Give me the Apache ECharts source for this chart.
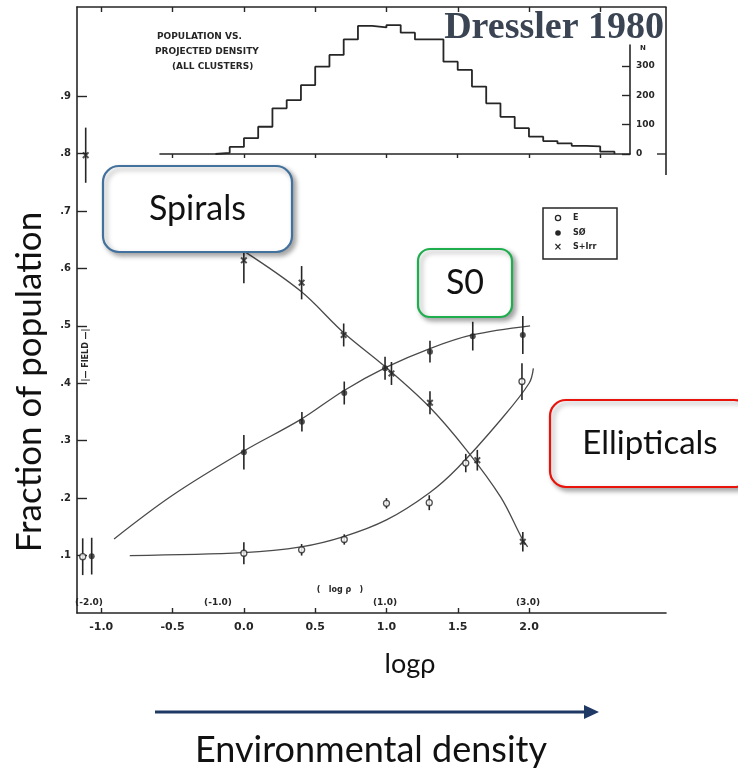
<!DOCTYPE html>
<html>
<head>
<meta charset="utf-8">
<script src="https://cdn.jsdelivr.net/npm/echarts@6/dist/echarts.min.js"></script>
<style>
html,body{margin:0;padding:0;background:#fff}
#chart{width:738px;height:770px}
</style>
</head>
<body>
<div id="chart"></div>
<script>
// Morphology–density relation: fraction of E, S0 and S+Irr galaxies vs log projected density

// axis ticks
const xTicks = [-1.0, -0.5, 0.0, 0.5, 1.0, 1.5, 2.0];
const frameTicks = [-1.0, -0.5, 0.0, 0.5, 1.0, 1.5, 2.0, 2.5];
const yTicks = [0.1, 0.2, 0.3, 0.4, 0.5, 0.6, 0.7, 0.8, 0.9];
const histTicks = [0, 100, 200, 300];
const histXTicks = [-0.5, 0.0, 0.5, 1.0, 1.5, 2.0, 2.5];

// measured fractions: [log rho, fraction, error]
const spiralPts = [[0.0,0.614,0.04],[0.405,0.575,0.029],[0.70,0.484,0.02],[1.035,0.417,0.02],[1.305,0.366,0.02],[1.637,0.266,0.018],[1.956,0.124,0.017]];
const s0Pts     = [[0.0,0.28,0.03],[0.407,0.333,0.017],[0.704,0.383,0.02],[0.99,0.426,0.02],[1.305,0.455,0.019],[1.605,0.482,0.025],[1.956,0.484,0.033]];
const ePts      = [[0.0,0.104,0.019],[0.405,0.11,0.01],[0.704,0.128,0.009],[1.0,0.191,0.009],[1.3,0.192,0.013],[1.556,0.261,0.016],[1.95,0.403,0.032]];

// field values, drawn at the left edge
const fieldSpiral = [[-1.109,0.797,0.048]];
const fieldS0     = [[-1.067,0.099,0.032]];
const fieldE      = [[-1.13,0.098,0.032]];

// hand-drawn trend curves
const spiralFit = [[0.0,0.63],[0.4,0.56],[0.7,0.488],[0.99,0.429],[1.3,0.359],[1.56,0.284],[1.8,0.202],[1.95,0.13],[1.99,0.115]];
const s0Fit     = [[-0.91,0.129],[-0.5,0.205],[0.0,0.282],[0.4,0.337],[0.7,0.387],[1.0,0.428],[1.3,0.46],[1.6,0.484],[2.007,0.5]];
const eFit      = [[-0.8,0.1],[0.0,0.105],[0.4,0.115],[0.7,0.133],[1.0,0.162],[1.3,0.209],[1.5,0.253],[1.8,0.336],[2.0,0.40],[2.03,0.426]];

// population histogram (all clusters): bin edges and counts per bin
const histEdges  = [-0.2,-0.1,0.0,0.1,0.2,0.3,0.4,0.5,0.6,0.7,0.8,0.9,1.0,1.1,1.2,1.3,1.4,1.5,1.6,1.7,1.8,1.9,2.0,2.1,2.2,2.3,2.4,2.5,2.6];
const histCounts = [4,24,54,93,156,184,235,298,338,391,437,432,440,414,391,391,315,287,230,173,127,88,59,44,36,28,26,8];

// step outline: start at first left edge, then each bin's right edge with its count
const histLine = [[histEdges[0], 0]];
histCounts.forEach((c, i) => histLine.push([histEdges[i + 1], c]));
histLine.push([histEdges[histEdges.length - 1], 0]);

const INK = '#262626';
const CALLOUT_FONT = '"Lato", "Open Sans", sans-serif';

function errBars(data) {
  return {
    type: 'custom', xAxisIndex: 0, yAxisIndex: 0, data: data,
    encode: { x: 0, y: 1 }, silent: true, z: 3,
    renderItem: function (params, api) {
      const x = api.value(0), y = api.value(1), e = api.value(2);
      const a = api.coord([x, y - e]), b = api.coord([x, y + e]);
      return { type: 'line', shape: { x1: a[0], y1: a[1], x2: b[0], y2: b[1] },
               style: { stroke: INK, lineWidth: 1.6 } };
    }
  };
}
function fitLine(data) {
  return { type: 'line', xAxisIndex: 0, yAxisIndex: 0, data: data, smooth: 0.35,
           symbol: 'none', silent: true, z: 2, lineStyle: { color: '#4a4a4a', width: 1.3 } };
}
const crossPath = 'path://M0,2L2,0L5,3L8,0L10,2L7,5L10,8L8,10L5,7L2,10L0,8L3,5Z';
function pts(data, kind) {
  const s = { type: 'scatter', xAxisIndex: 0, yAxisIndex: 0, data: data.map(d => [d[0], d[1]]), z: 4, silent: true };
  if (kind === 'E') { s.symbol = 'circle'; s.symbolSize = 6; s.itemStyle = { color: '#fff', borderColor: INK, borderWidth: 1.3 }; }
  if (kind === 'S0') { s.symbol = 'circle'; s.symbolSize = 6; s.itemStyle = { color: INK }; }
  if (kind === 'S') { s.symbol = crossPath; s.symbolSize = 7; s.itemStyle = { color: INK }; }
  return s;
}

function callout(x, y, w, h, r, stroke, label, size) {
  return [
    { type: 'rect', z: 100, shape: { x: x, y: y, width: w, height: h, r: r },
      style: { fill: '#fff', stroke: stroke, lineWidth: 2.2,
               shadowBlur: 5, shadowOffsetX: 3, shadowOffsetY: 3, shadowColor: 'rgba(0,0,0,0.35)' } },
    { type: 'text', z: 101, style: { text: label, x: x + w / 2, y: y + h / 2, align: 'center', verticalAlign: 'middle',
               font: size + 'px ' + CALLOUT_FONT, fill: '#111' } }
  ];
}
function scanText(text, x, y, size, align) {
  return { type: 'text', z: 50, style: { text: text, x: x, y: y, align: align || 'center', verticalAlign: 'middle',
           font: 'bold ' + size + 'px "DejaVu Sans", sans-serif', fill: INK } };
}

const chart = echarts.init(document.getElementById('chart'), null, { renderer: 'canvas' });

const axisLine = { show: true, onZero: false, lineStyle: { color: INK, width: 1.6 } };

const option = {
  backgroundColor: '#fff',
  animation: false,
  grid: [
    { left: 77, top: 7, width: 589, height: 606 },
    { left: 160, top: 45, width: 470, height: 109 }
  ],
  xAxis: [
    { gridIndex: 0, type: 'value', min: -1.17, max: 2.96, position: 'bottom',
      axisLine: axisLine, splitLine: { show: false },
      axisTick: { inside: true, length: 5, customValues: xTicks, lineStyle: { color: INK, width: 1.4 } },
      axisLabel: { customValues: xTicks, formatter: v => v.toFixed(1), margin: 9,
                   color: INK, fontFamily: '"DejaVu Sans", sans-serif', fontWeight: 'bold', fontSize: 11 } },
    { gridIndex: 0, type: 'value', min: -1.17, max: 2.96, position: 'top',
      axisLine: axisLine, splitLine: { show: false },
      axisTick: { inside: true, length: 5, customValues: frameTicks, lineStyle: { color: INK, width: 1.4 } },
      axisLabel: { show: false } },
    { gridIndex: 1, type: 'value', min: -0.589, max: 2.709,
      axisLine: axisLine, splitLine: { show: false },
      axisTick: { inside: false, length: 4, customValues: histXTicks, lineStyle: { color: INK, width: 1.4 } },
      axisLabel: { show: false } }
  ],
  yAxis: [
    { gridIndex: 0, type: 'value', min: 0, max: 1.055, position: 'left',
      axisLine: axisLine, splitLine: { show: false },
      axisTick: { inside: true, length: 10, customValues: yTicks, lineStyle: { color: INK, width: 1.4 } },
      axisLabel: { customValues: yTicks, formatter: v => '.' + Math.round(v * 10), margin: 6,
                   color: INK, fontFamily: '"DejaVu Sans", sans-serif', fontWeight: 'bold', fontSize: 10 } },
    { gridIndex: 1, type: 'value', min: 0, max: 372, position: 'right',
      axisLine: axisLine, splitLine: { show: false },
      axisTick: { inside: true, length: 8, customValues: histTicks, lineStyle: { color: INK, width: 1.4 } },
      axisLabel: { customValues: histTicks, margin: 6,
                   color: INK, fontFamily: '"DejaVu Sans", sans-serif', fontWeight: 'bold', fontSize: 9 } }
  ],
  series: [
    { type: 'line', xAxisIndex: 2, yAxisIndex: 1, data: histLine, step: 'start', symbol: 'none',
      clip: false, silent: true, lineStyle: { color: INK, width: 1.8 } },
    fitLine(spiralFit), fitLine(s0Fit), fitLine(eFit),
    errBars(spiralPts), errBars(s0Pts), errBars(ePts),
    errBars(fieldSpiral), errBars(fieldS0), errBars(fieldE),
    pts(spiralPts, 'S'), pts(s0Pts, 'S0'), pts(ePts, 'E'),
    pts(fieldSpiral, 'S'), pts(fieldS0, 'S0'), pts(fieldE, 'E')
  ],
  graphic: [].concat(
    // right edge of the frame beside the histogram
    [{ type: 'line', z: 40, shape: { x1: 666, y1: 7, x2: 666, y2: 175 }, style: { stroke: INK, lineWidth: 1.6 } },
     { type: 'line', z: 40, shape: { x1: 657, y1: 154, x2: 666, y2: 154 }, style: { stroke: INK, lineWidth: 1.4 } }],
    // histogram caption
    [scanText('POPULATION VS.', 157, 37, 9, 'left'),
     scanText('PROJECTED DENSITY', 155, 52, 9, 'left'),
     scanText('(ALL CLUSTERS)', 172, 67, 9, 'left'),
     scanText('N', 643, 48, 7)],
    // secondary density scale and axis note
    [scanText('(-2.0)', 89, 603, 9), scanText('(-1.0)', 218, 603, 9),
     scanText('(1.0)', 385, 603, 9), scanText('(3.0)', 528, 603, 9),
     scanText('(   log \u03c1   )', 340, 590, 8)],
    // field bracket along the y axis
    [{ type: 'text', z: 50, x: 86, y: 355, rotation: Math.PI / 2,
       style: { text: '|\u2014 FIELD \u2014|', x: 0, y: 0, align: 'center', verticalAlign: 'middle',
                font: 'bold 8px "DejaVu Sans", sans-serif', fill: INK } }],
    // symbol key
    [{ type: 'rect', z: 50, shape: { x: 543, y: 208, width: 74, height: 51 }, style: { fill: 'none', stroke: INK, lineWidth: 1.5 } },
     { type: 'circle', z: 51, shape: { cx: 558, cy: 218, r: 2.6 }, style: { fill: '#fff', stroke: INK, lineWidth: 1.3 } },
     { type: 'circle', z: 51, shape: { cx: 558, cy: 233, r: 2.8 }, style: { fill: INK } },
     scanText('\u00d7', 558, 247, 10),
     scanText('E', 573, 218, 8, 'left'),
     scanText('S\u00d8', 573, 233, 8, 'left'),
     scanText('S+Irr', 573, 247, 8, 'left')],
    // citation
    [{ type: 'text', z: 60, style: { text: 'Dressler 1980', x: 664, y: 28, align: 'right', verticalAlign: 'middle',
       font: 'bold 38px "Liberation Serif", serif', fill: '#3a4452' } }],
    // callouts
    callout(103, 166, 189, 86, 16, '#41719c', 'Spirals', 34),
    callout(418, 249, 94, 68, 12, '#1fae4e', 'S0', 34),
    callout(550, 400, 200, 87, 16, '#e8140c', 'Ellipticals', 33),
    // axis titles
    [{ type: 'text', z: 60, x: 30, y: 382, rotation: Math.PI / 2,
       style: { text: 'Fraction of population', x: 0, y: 0, align: 'center', verticalAlign: 'middle',
                font: '35px ' + CALLOUT_FONT, fill: '#111' } },
     { type: 'text', z: 60, style: { text: 'log\u03c1', x: 410, y: 664, align: 'center', verticalAlign: 'middle',
                font: '27px ' + CALLOUT_FONT, fill: '#111' } },
     { type: 'text', z: 60, style: { text: 'Environmental density', x: 371, y: 750, align: 'center', verticalAlign: 'middle',
                font: '36px ' + CALLOUT_FONT, fill: '#111' } }],
    // density arrow
    [{ type: 'line', z: 60, shape: { x1: 155, y1: 712, x2: 588, y2: 712 }, style: { stroke: '#1f3864', lineWidth: 3 } },
     { type: 'polygon', z: 60, shape: { points: [[584, 705], [599, 712], [584, 719]] }, style: { fill: '#1f3864' } }]
  )
};

chart.setOption(option);
</script>
</body>
</html>
